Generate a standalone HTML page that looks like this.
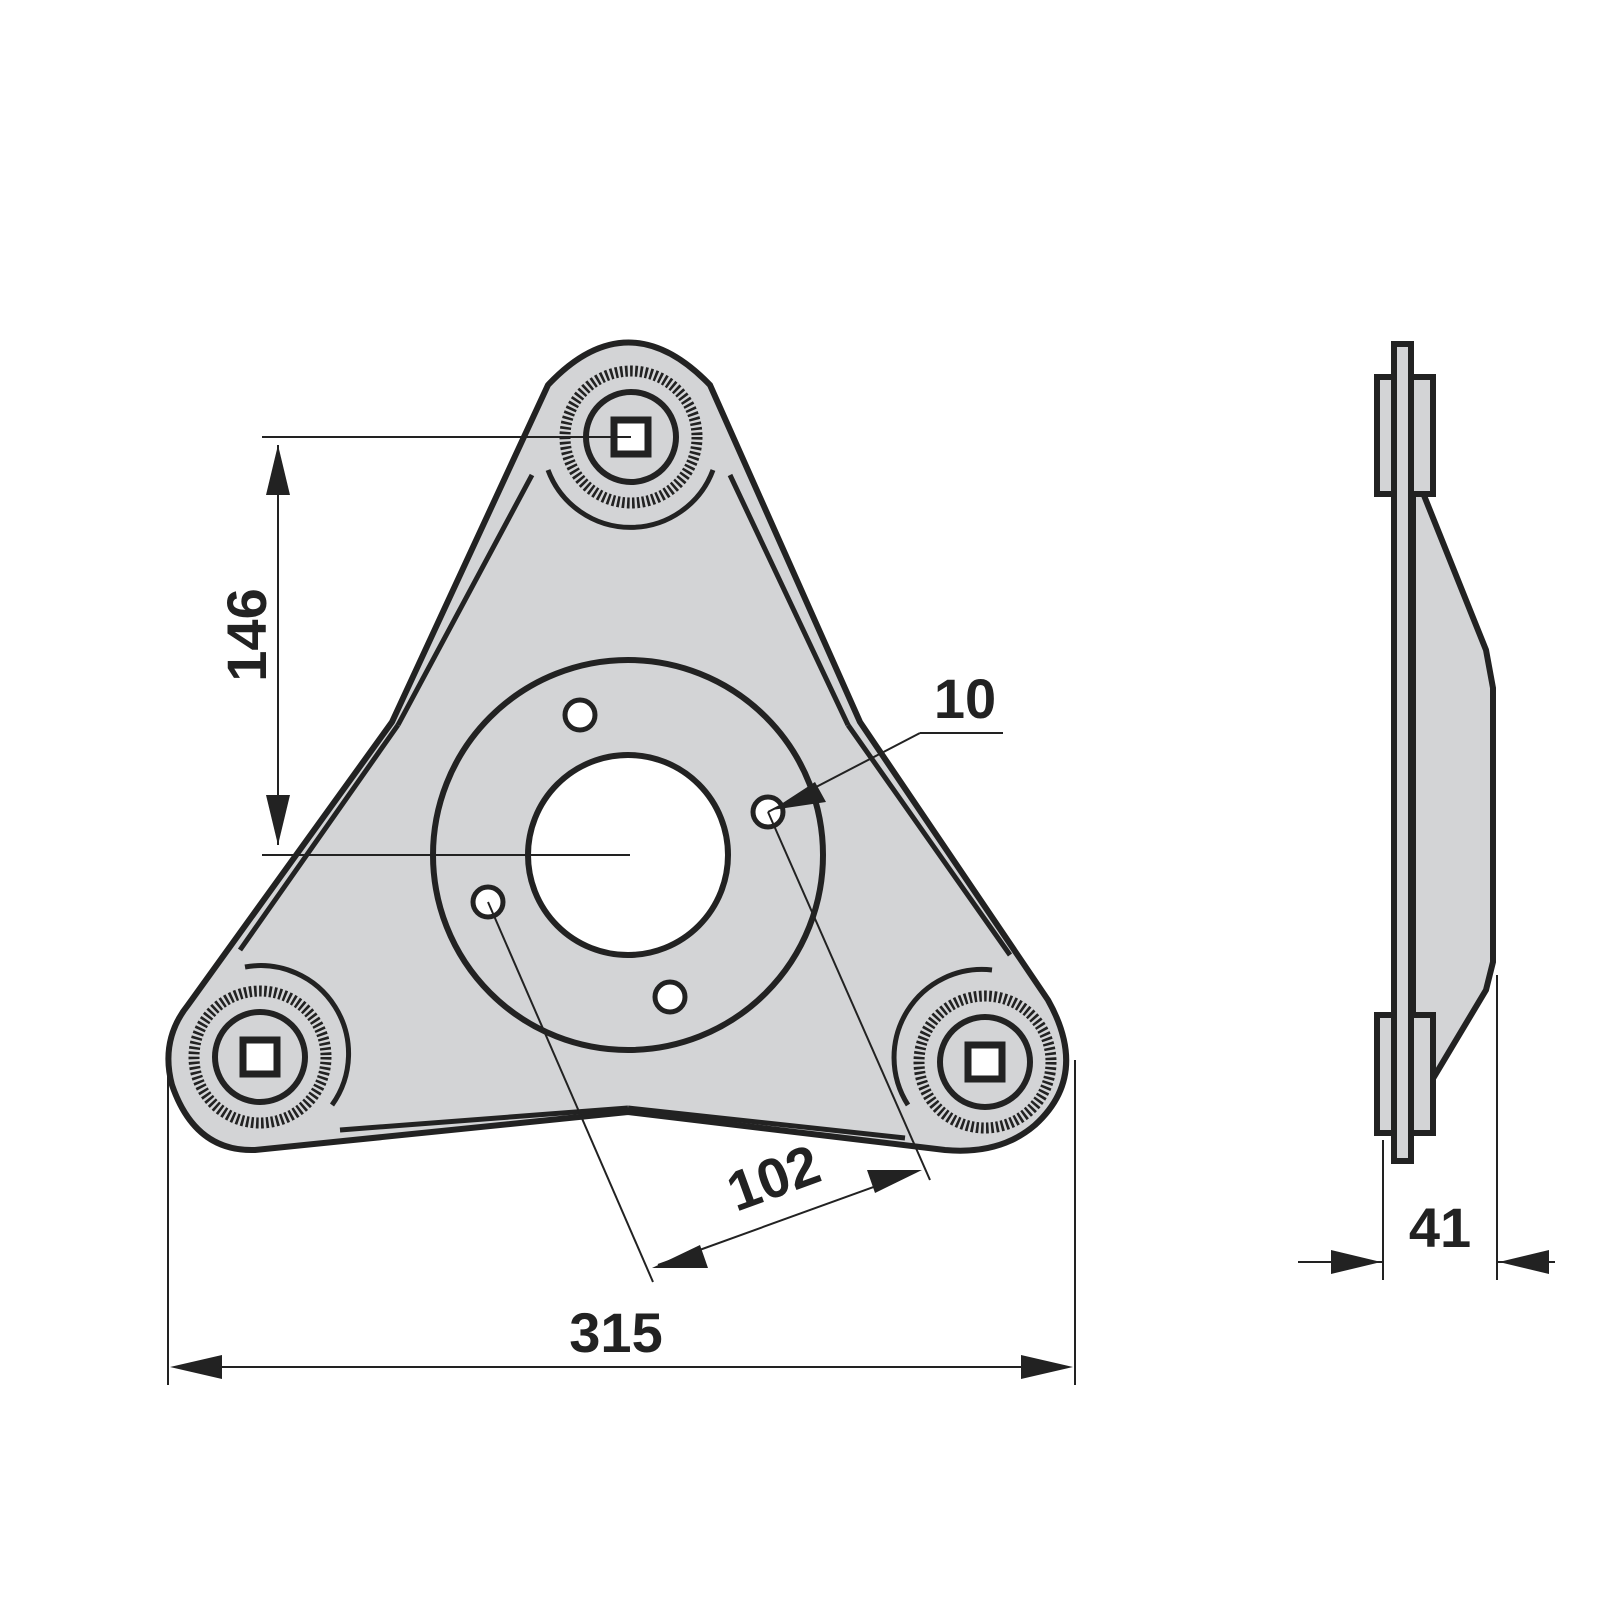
<!DOCTYPE html>
<html><head><style>html,body{margin:0;padding:0;background:#fff}svg{display:block}</style></head>
<body>
<svg width="1600" height="1600" viewBox="0 0 1600 1600" xmlns="http://www.w3.org/2000/svg" font-family="Liberation Sans, sans-serif">
<defs>
<g id="lug">
<circle r="66" fill="none" stroke="#222" stroke-width="11" stroke-dasharray="2.6 2.4"/>
<circle r="45" fill="none" stroke="#222" stroke-width="6"/>
<rect x="-17" y="-17" width="34" height="34" fill="#fff" stroke="#222" stroke-width="7"/>
</g>
</defs>
<path d="M548,385 Q628,300 710,385 L860,722 L1048,1000 Q1090,1075 1035,1125 Q1000,1155 945,1150 L628,1112 L255,1150 Q195,1152 172,1085 Q160,1040 188,1005 L392,722 Z" fill="#d3d4d6" stroke="#222" stroke-width="6" stroke-linejoin="round"/>
<g stroke="#222" stroke-width="5" fill="none">
<line x1="532" y1="475" x2="398" y2="725"/>
<line x1="398" y1="725" x2="240" y2="950"/>
<line x1="730" y1="475" x2="848" y2="725"/>
<line x1="848" y1="725" x2="1010" y2="955"/>
<line x1="340" y1="1130" x2="628" y2="1108"/>
<line x1="628" y1="1108" x2="905" y2="1138"/>
<path d="M548,470 A88,88 0 0 0 713,470"/>
<path d="M245,967 A88,88 0 0 1 332,1105"/>
<path d="M992,970 A88,88 0 0 0 908,1105"/>
</g>
<use href="#lug" x="631" y="437"/>
<use href="#lug" x="260" y="1057"/>
<use href="#lug" x="985" y="1062"/>
<circle cx="628" cy="855" r="195" fill="none" stroke="#222" stroke-width="6"/>
<circle cx="628" cy="855" r="100" fill="#fff" stroke="#222" stroke-width="6"/>
<g fill="#fff" stroke="#222" stroke-width="5">
<circle cx="580" cy="715" r="15"/><circle cx="768" cy="812" r="15"/>
<circle cx="488" cy="902" r="15"/><circle cx="670" cy="997" r="15"/>
</g>
<g stroke="#222" stroke-width="2" fill="none">
<line x1="262" y1="437" x2="631" y2="437"/>
<line x1="262" y1="855" x2="630" y2="855"/>
<line x1="278" y1="445" x2="278" y2="845"/>
<line x1="168" y1="1060" x2="168" y2="1385"/>
<line x1="1075" y1="1060" x2="1075" y2="1385"/>
<line x1="175" y1="1367" x2="1068" y2="1367"/>
<line x1="488" y1="902" x2="653" y2="1282"/>
<line x1="768" y1="812" x2="930" y2="1180"/>
<line x1="658" y1="1265" x2="915" y2="1172"/>
<line x1="768" y1="812" x2="920" y2="733"/>
<line x1="920" y1="733" x2="1003" y2="733"/>
<line x1="1383" y1="1140" x2="1383" y2="1280"/>
<line x1="1497" y1="975" x2="1497" y2="1280"/>
<line x1="1298" y1="1262" x2="1383" y2="1262"/>
<line x1="1497" y1="1262" x2="1555" y2="1262"/>
</g>
<g fill="#222">
<polygon points="278,445 266,495 290,495"/>
<polygon points="278,845 266,795 290,795"/>
<polygon points="170,1367 222,1355 222,1379"/>
<polygon points="1073,1367 1021,1355 1021,1379"/>
<polygon points="652,1268 700,1245 708,1268"/>
<polygon points="922,1170 875,1193 867,1170"/>
<polygon points="772,810 815,782 826,802"/>
<polygon points="1381,1262 1331,1250 1331,1274"/>
<polygon points="1499,1262 1549,1250 1549,1274"/>
</g>
<g font-weight="bold" font-size="56" fill="#222">
<text x="616" y="1352" text-anchor="middle">315</text>
<text x="1440" y="1247" text-anchor="middle">41</text>
<text x="965" y="718" text-anchor="middle">10</text>
<text transform="translate(266,635) rotate(-90)" text-anchor="middle">146</text>
<text transform="translate(780,1196) rotate(-20)" text-anchor="middle">102</text>
</g>
<g fill="#d3d4d6" stroke="#222" stroke-width="6" stroke-linejoin="miter">
<path d="M1413,468 L1486,650 L1493,688 L1493,962 L1486,990 L1413,1112 Z"/>
<rect x="1377" y="377" width="56" height="117"/>
<rect x="1377" y="1015" width="56" height="118"/>
<rect x="1394" y="344" width="17" height="817"/>
</g>
</svg>
</body></html>
